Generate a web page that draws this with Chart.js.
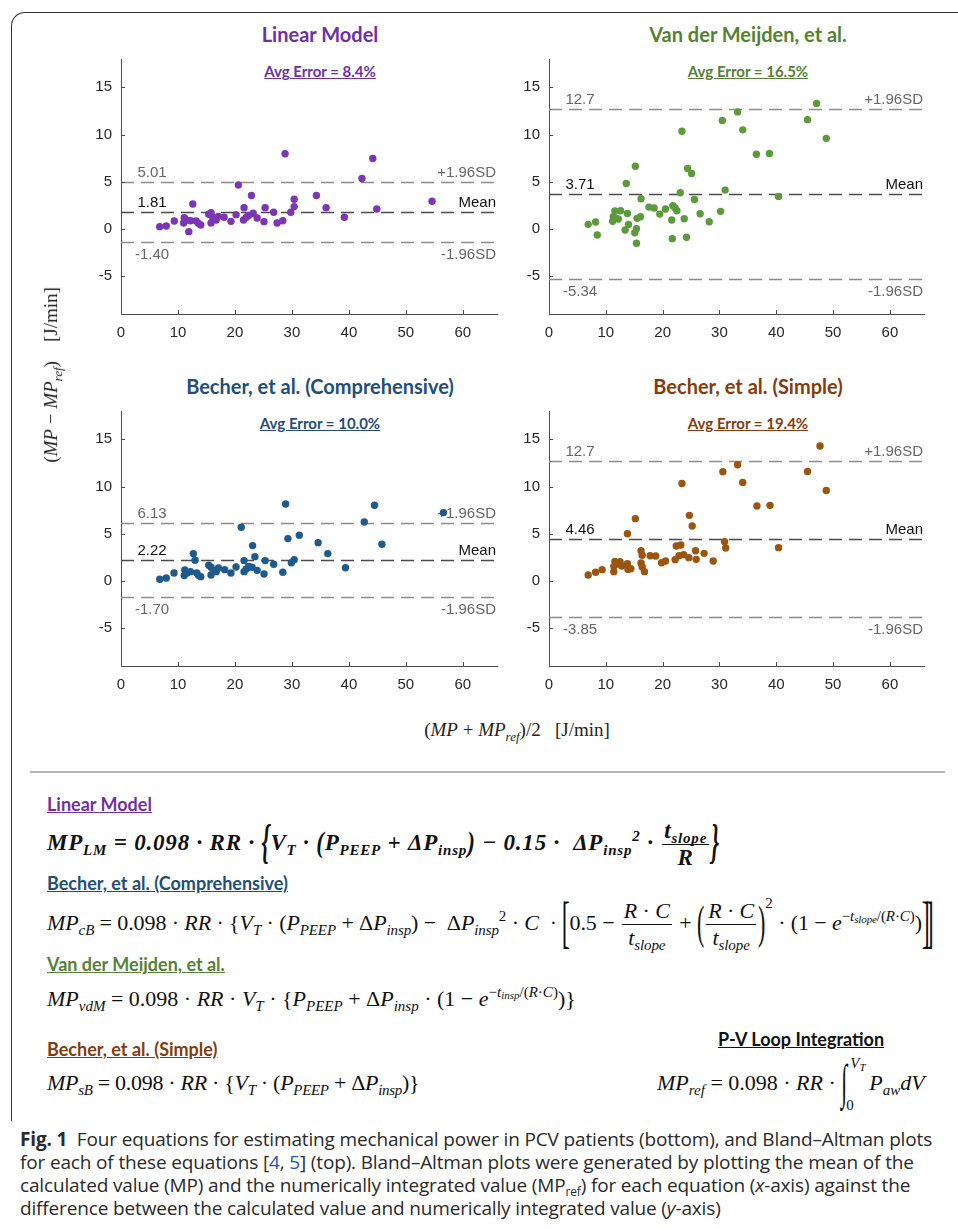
<!DOCTYPE html>
<html>
<head>
<meta charset="UTF-8" />
<title>Bland-Altman plots, mechanical power</title>
<script src="https://cdn.jsdelivr.net/npm/chart.js@4"></script>
<style>
  body { margin: 0; background: #fff; width: 958px; height: 1229px; position: relative; overflow: hidden; }
  .abs { position: absolute; }
  #frame { left: 11px; top: 12px; width: 980px; height: 1108px; border-left: 1.5px solid #333; border-top: 1.5px solid #333; border-top-left-radius: 14px; }
  .ttl { font-family: Lato, "Open Sans", sans-serif; font-weight: 700; font-size: 20px; width: 400px; text-align: center; white-space: nowrap; }
  .err { font-family: Lato, "Open Sans", sans-serif; font-weight: 700; font-size: 15px; width: 400px; text-align: center; text-decoration: underline; white-space: nowrap; }
  .axlab { font-family: "Liberation Serif", "DejaVu Serif", serif; font-size: 19px; color: #222; white-space: nowrap; text-align: center; }
  .axlab sub { font-size: 13px; }
  .sec { font-family: Lato, "Open Sans", sans-serif; font-weight: 700; font-size: 18px; text-decoration: underline; white-space: nowrap; }
  .eq { font-family: "Liberation Serif", "DejaVu Serif", serif; font-size: 22px; color: #111; white-space: nowrap; line-height: 26px; }
  .eq sub { font-size: 15px; vertical-align: -5px; line-height: 0; }
  .eq sup { font-size: 15px; vertical-align: 9px; line-height: 0; }
  .frac { display: inline-flex; flex-direction: column; vertical-align: middle; text-align: center; line-height: 26px; margin: 0 2px; }
  .frac > span:first-child { border-bottom: 1.3px solid #111; padding: 0 2px; }
  .big { display: inline-block; transform: scale(1, 2.1); }
  .bigger { display: inline-block; transform: scale(1.1, 2.6); }
  #caption { left: 20px; top: 1128px; font-family: "Open Sans", "Noto Sans", sans-serif; font-size: 19px; line-height: 23px; color: #2a2a2a; white-space: nowrap; letter-spacing: -0.15px; }
  #caption a { color: #2455b8; text-decoration: none; }
  #caption sub { font-size: 12px; line-height: 0; vertical-align: -4px; }
</style>
</head>
<body>
<div id="frame" class="abs"></div>

<div class="abs ttl" style="left:120px;top:22px;color:#7030a0">Linear Model</div>
<div class="abs err" style="left:120px;top:62px;color:#7030a0">Avg Error = 8.4%</div>
<div class="abs ttl" style="left:548px;top:22px;color:#548235">Van der Meijden, et al.</div>
<div class="abs err" style="left:548px;top:62px;color:#548235">Avg Error = 16.5%</div>
<div class="abs ttl" style="left:120px;top:374px;color:#1f4e79">Becher, et al. (Comprehensive)</div>
<div class="abs err" style="left:120px;top:414px;color:#1f4e79">Avg Error = 10.0%</div>
<div class="abs ttl" style="left:548px;top:374px;color:#843c0c">Becher, et al. (Simple)</div>
<div class="abs err" style="left:548px;top:414px;color:#843c0c">Avg Error = 19.4%</div>

<canvas id="p1" class="abs" width="443" height="299" style="left:60px;top:51px"></canvas>
<canvas id="p2" class="abs" width="442" height="299" style="left:488px;top:51px"></canvas>
<canvas id="p3" class="abs" width="443" height="299" style="left:60px;top:403px"></canvas>
<canvas id="p4" class="abs" width="442" height="299" style="left:488px;top:403px"></canvas>

<div class="abs axlab" style="left:-147px;top:362px;width:400px;transform:rotate(-90deg)">(<i>MP</i> &minus; <i>MP</i><sub><i>ref</i></sub>)&nbsp;&nbsp;&nbsp;&nbsp;[J/min]</div>
<div class="abs axlab" style="left:217px;top:719px;width:600px">(<i>MP</i> + <i>MP</i><sub><i>ref</i></sub>)/2&nbsp;&nbsp;&nbsp;[J/min]</div>

<div class="abs" style="left:30px;top:771px;width:915px;height:2px;background:#b5b5b5"></div>

<div class="abs sec" style="left:47px;top:793px;color:#7030a0">Linear Model</div>
<div class="abs eq" style="left:47px;top:818px;font-weight:bold;font-style:italic;font-size:23px;letter-spacing:0.8px">MP<sub>LM</sub> = 0.098 &middot; RR &middot; <span class="big">{</span>V<sub>T</sub> &middot; <span class="big" style="transform:scale(1,1.3)">(</span>P<sub>PEEP</sub> + &Delta;P<sub>insp</sub><span class="big" style="transform:scale(1,1.3)">)</span> &minus; 0.15 &middot;&nbsp; &Delta;P<sub>insp</sub><sup>2</sup> &middot; <span class="frac"><span>t<sub>slope</sub></span><span>R</span></span><span class="big">}</span></div>

<div class="abs sec" style="left:47px;top:872px;color:#1f4e79">Becher, et al. (Comprehensive)</div>
<div class="abs eq" style="left:47px;top:898px;letter-spacing:-0.1px"><i>MP</i><sub><i>cB</i></sub> = 0.098 &middot; <i>RR</i> &middot; {<i>V</i><sub><i>T</i></sub> &middot; (<i>P</i><sub><i>PEEP</i></sub> + &Delta;<i>P</i><sub><i>insp</i></sub>) &minus;&nbsp; &Delta;<i>P</i><sub><i>insp</i></sub><sup>2</sup> &middot; <i>C</i>&nbsp; &middot; <span class="bigger">[</span>0.5 &minus; <span class="frac"><span><i>R</i> &middot; <i>C</i></span><span><i>t</i><sub><i>slope</i></sub></span></span> + <span class="big">(</span><span class="frac"><span><i>R</i> &middot; <i>C</i></span><span><i>t</i><sub><i>slope</i></sub></span></span><span class="big">)</span><sup style="vertical-align:22px">2</sup> &middot; (1 &minus; <i>e</i><sup>&minus;<i>t</i><sub style="font-size:11px;vertical-align:-2px"><i>slope</i></sub>/(<i>R</i>&middot;<i>C</i>)</sup>)<span class="bigger">]</span><span class="bigger" style="margin-left:-3px">]</span></div>

<div class="abs sec" style="left:47px;top:953px;color:#548235">Van der Meijden, et al.</div>
<div class="abs eq" style="left:47px;top:986px"><i>MP</i><sub><i>vdM</i></sub> = 0.098 &middot; <i>RR</i> &middot; <i>V</i><sub><i>T</i></sub> &middot; {<i>P</i><sub><i>PEEP</i></sub> + &Delta;<i>P</i><sub><i>insp</i></sub> &middot; (1 &minus; <i>e</i><sup>&minus;<i>t</i><sub style="font-size:11px;vertical-align:-2px"><i>insp</i></sub>/(<i>R</i>&middot;<i>C</i>)</sup>)}</div>

<div class="abs sec" style="left:47px;top:1038px;color:#843c0c">Becher, et al. (Simple)</div>
<div class="abs eq" style="left:47px;top:1070px;letter-spacing:-0.3px"><i>MP</i><sub><i>sB</i></sub> = 0.098 &middot; <i>RR</i> &middot; {<i>V</i><sub><i>T</i></sub> &middot; (<i>P</i><sub><i>PEEP</i></sub> + &Delta;<i>P</i><sub><i>insp</i></sub>)}</div>

<div class="abs sec" style="left:718px;top:1028px;color:#111">P-V Loop Integration</div>
<div class="abs eq" style="left:657px;top:1070px"><i>MP</i><sub><i>ref</i></sub> = 0.098 &middot; <i>RR</i> &middot; <span class="bigger" style="transform:scale(1,2.2)">&int;</span><span style="display:inline-block;position:relative;width:22px;height:10px"><span style="position:absolute;left:3px;top:-24px;font-size:15px;line-height:15px"><i>V</i><sub style="font-size:11px;vertical-align:-3px"><i>T</i></sub></span><span style="position:absolute;left:-1px;top:18px;font-size:15px;line-height:15px">0</span></span><i>P</i><sub><i>aw</i></sub><i>dV</i></div>

<div id="caption" class="abs">
  <b>Fig. 1</b>&nbsp; Four equations for estimating mechanical power in PCV patients (bottom), and Bland–Altman plots<br>
  for each of these equations [<a>4</a>, <a>5</a>] (top). Bland–Altman plots were generated by plotting the mean of the<br>
  calculated value (MP) and the numerically integrated value (MP<sub>ref</sub>) for each equation (<i>x</i>-axis) against the<br>
  difference between the calculated value and numerically integrated value (<i>y</i>-axis)
</div>

<script>
  // axis ticks
  const xTicks = [0, 10, 20, 30, 40, 50, 60];
  const yTicks = [-5, 0, 5, 10, 15];

  // Linear Model
  const lmX = [6.8, 7.95, 9.35, 11.1, 11.0, 11.5, 11.9, 12.2, 12.6, 13.2, 13.6, 14.0, 15.4, 15.8, 15.8, 16.1, 16.7, 17.1, 18.1, 19.3, 20.2, 20.6, 21.6, 21.5, 22.0, 22.4, 22.9, 23.2, 23.9, 25.1, 25.3, 26.8, 27.4, 28.4, 28.8, 29.8, 30.4, 30.4, 34.3, 36.0, 39.2, 42.3, 44.2, 44.9, 54.6];
  const lmY = [0.25, 0.32, 0.85, 1.2, 0.64, 0.92, -0.28, 0.88, 2.65, 0.85, 0.6, 0.42, 1.56, 1.73, 0.64, 1.24, 0.96, 1.34, 1.24, 0.81, 1.52, 4.67, 2.26, 0.96, 1.24, 1.42, 3.54, 1.66, 1.17, 0.78, 2.26, 1.77, 0.64, 0.88, 7.96, 1.77, 2.37, 3.15, 3.54, 2.26, 1.24, 5.34, 7.47, 2.12, 2.94];
  const lmLimits = [5.01, 1.81, -1.40];
  const lmLimitText = ['5.01', '1.81', '-1.40'];

  // Van der Meijden
  const vdmX = [6.9, 8.2, 8.5, 11.2, 11.6, 11.3, 11.8, 12.2, 12.6, 13.4, 13.6, 13.8, 14.0, 15.2, 15.1, 15.4, 15.4, 15.5, 16.1, 16.2, 17.6, 18.5, 19.5, 20.5, 21.6, 21.7, 21.8, 22.2, 22.5, 23.1, 23.4, 23.8, 24.2, 24.4, 25.1, 25.6, 26.6, 28.2, 30.2, 30.5, 31.0, 33.2, 34.1, 36.5, 38.8, 40.4, 45.5, 47.1, 48.8];
  const vdmY = [0.49, 0.74, -0.63, 0.81, 1.9, 1.3, 1.13, 1.06, 1.94, -0.1, 4.82, 1.65, 0.49, 6.65, -0.39, 0.04, -1.51, 1.13, 1.3, 3.2, 2.32, 2.22, 1.58, 2.11, 0.95, -1.02, 2.46, 2.22, 1.94, 3.84, 10.35, 1.09, -0.88, 6.41, 5.88, 3.13, 1.62, 0.77, 1.87, 11.5, 4.12, 12.4, 10.5, 7.92, 7.99, 3.45, 11.58, 13.3, 9.6];
  const vdmLimits = [12.7, 3.71, -5.34];
  const vdmLimitText = ['12.7', '3.71', '-5.34'];

  // Becher comprehensive
  const cbX = [6.8, 7.95, 9.3, 11.1, 11.2, 11.6, 12.2, 12.7, 13.0, 13.3, 13.6, 14.0, 15.4, 15.8, 15.8, 16.3, 16.7, 17.1, 18.2, 19.3, 20.2, 21.1, 21.6, 21.6, 22.0, 22.4, 23.1, 23.5, 23.0, 23.9, 25.1, 25.3, 26.8, 28.4, 28.9, 29.3, 29.9, 30.4, 31.3, 34.6, 36.3, 39.4, 42.7, 44.5, 45.8, 56.6];
  const cbY = [0.18, 0.32, 0.85, 0.57, 1.17, 0.85, 0.99, 2.9, 2.19, 0.85, 0.6, 0.46, 1.66, 1.45, 0.64, 1.1, 0.99, 1.38, 1.2, 0.85, 1.48, 5.69, 2.16, 0.99, 1.27, 1.55, 3.75, 2.58, 1.45, 1.13, 0.74, 2.16, 1.77, 0.92, 8.16, 4.49, 1.94, 2.26, 4.84, 4.06, 2.9, 1.41, 6.25, 8.02, 3.89, 7.24];
  const cbLimits = [6.13, 2.22, -1.70];
  const cbLimitText = ['6.13', '2.22', '-1.70'];

  // Becher simple
  const sbX = [6.9, 8.2, 9.35, 11.4, 11.6, 11.4, 12.0, 12.5, 12.8, 13.8, 13.8, 13.9, 14.4, 15.2, 16.2, 16.4, 16.2, 16.4, 16.8, 17.8, 18.8, 19.8, 20.5, 22.2, 22.4, 22.9, 23.2, 23.4, 23.7, 24.6, 24.7, 25.2, 25.8, 25.9, 27.3, 28.9, 30.6, 30.9, 31.1, 33.2, 34.1, 36.6, 38.9, 40.4, 45.5, 47.7, 48.8];
  const sbY = [0.63, 0.92, 1.2, 0.99, 2.08, 1.55, 1.8, 2.05, 1.59, 5.01, 1.83, 1.23, 1.31, 6.6, 3.21, 2.72, 1.9, 1.48, 0.99, 2.68, 2.65, 1.94, 2.12, 2.26, 3.7, 2.68, 3.81, 10.33, 2.79, 2.47, 6.95, 5.82, 3.21, 2.29, 2.93, 2.12, 11.57, 4.16, 3.49, 12.31, 10.44, 7.94, 8.01, 3.53, 11.6, 14.29, 9.59];
  const sbLimits = [12.7, 4.46, -3.85];
  const sbLimitText = ['12.7', '4.46', '-3.85'];

  const axisColor = '#4d4d4d';
  const tickColor = '#262626';
  const fontFam = '"Liberation Sans", Arial, sans-serif';

  // dashed limit lines, their labels and inward tick marks
  const baPlugin = {
    id: 'baLines',
    beforeDatasetsDraw(chart, args, opts) {
      const ctx = chart.ctx;
      const area = chart.chartArea;
      const ys = chart.scales.y;
      ctx.save();
      ctx.lineWidth = 1.3;
      ctx.setLineDash([13, 7]);
      opts.values.forEach((v, i) => {
        const py = Math.round(ys.getPixelForValue(v)) + 0.5;
        ctx.strokeStyle = i === 1 ? '#4a4a4a' : '#8c8c8c';
        ctx.beginPath();
        ctx.moveTo(area.left, py);
        ctx.lineTo(area.right, py);
        ctx.stroke();
      });
      ctx.setLineDash([]);
      ctx.font = '15px ' + fontFam;
      const rightText = ['+1.96SD', 'Mean', '-1.96SD'];
      opts.values.forEach((v, i) => {
        const py = ys.getPixelForValue(v);
        const ty = i === 2 ? py + 17 : py - 5;
        ctx.fillStyle = i === 1 ? '#111' : '#666';
        ctx.textBaseline = 'alphabetic';
        ctx.textAlign = 'center';
        ctx.fillText(opts.labels[i], area.left + 31, ty);
        ctx.textAlign = 'right';
        ctx.fillText(rightText[i], area.right - 1, ty);
      });
      ctx.restore();
    },
    afterDraw(chart) {
      const ctx = chart.ctx;
      const area = chart.chartArea;
      ctx.save();
      ctx.strokeStyle = axisColor;
      ctx.lineWidth = 1;
      yTicks.forEach(v => {
        const py = Math.round(chart.scales.y.getPixelForValue(v)) + 0.5;
        ctx.beginPath();
        ctx.moveTo(area.left, py);
        ctx.lineTo(area.left + 4, py);
        ctx.stroke();
      });
      xTicks.forEach(v => {
        const px = Math.round(chart.scales.x.getPixelForValue(v)) + 0.5;
        ctx.beginPath();
        ctx.moveTo(px, area.bottom);
        ctx.lineTo(px, area.bottom - 4);
        ctx.stroke();
      });
      ctx.restore();
    }
  };

  function makePanel(id, xs, ys, color, limits, limitText) {
    const pts = xs.map((x, i) => ({ x: x, y: ys[i] }));
    return new Chart(document.getElementById(id), {
      type: 'scatter',
      data: {
        datasets: [{
          data: pts,
          backgroundColor: color,
          borderWidth: 0,
          pointRadius: 3.7,
          pointHoverRadius: 3.7
        }]
      },
      options: {
        responsive: false,
        animation: false,
        events: [],
        layout: { padding: { top: 8, right: 6, left: 0, bottom: 0 } },
        plugins: {
          legend: { display: false },
          tooltip: { enabled: false },
          baLines: { values: limits, labels: limitText }
        },
        scales: {
          x: {
            type: 'linear',
            min: 0,
            max: 66,
            afterBuildTicks: s => { s.ticks = xTicks.map(v => ({ value: v })); },
            afterFit: s => { s.height = 36; s.paddingLeft = 0; s.paddingRight = 0; },
            grid: { display: false, drawTicks: false },
            border: { display: true, color: axisColor, width: 1 },
            ticks: { padding: 10, color: tickColor, font: { family: fontFam, size: 15 } }
          },
          y: {
            type: 'linear',
            min: -9,
            max: 18,
            afterBuildTicks: s => { s.ticks = yTicks.map(v => ({ value: v })); },
            afterFit: s => { s.width = 61; s.paddingTop = 0; s.paddingBottom = 0; },
            grid: { display: false, drawTicks: false },
            border: { display: true, color: axisColor, width: 1 },
            ticks: { padding: 9, color: tickColor, font: { family: fontFam, size: 15 } }
          }
        }
      },
      plugins: [baPlugin]
    });
  }

  makePanel('p1', lmX, lmY, '#7b35b5', lmLimits, lmLimitText);
  makePanel('p2', vdmX, vdmY, '#5c9a3c', vdmLimits, vdmLimitText);
  makePanel('p3', cbX, cbY, '#1f5a8c', cbLimits, cbLimitText);
  makePanel('p4', sbX, sbY, '#9a5510', sbLimits, sbLimitText);
</script>
</body>
</html>
